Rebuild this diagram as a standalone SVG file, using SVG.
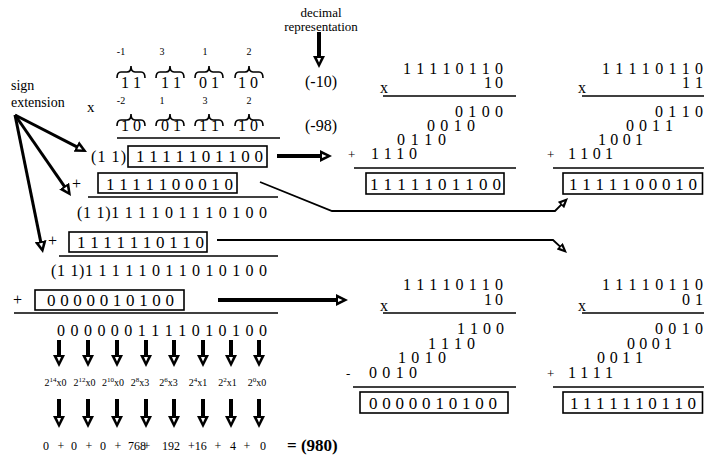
<svg xmlns="http://www.w3.org/2000/svg" width="704" height="459" viewBox="0 0 704 459" font-family="'Liberation Serif', Tinos, 'DejaVu Serif', 'Noto Serif', 'Times New Roman', serif">
<style>
 text{font-family:'Liberation Serif', Tinos, 'DejaVu Serif', 'Noto Serif', 'Times New Roman', serif;fill:#000}
 .d{font-size:16px}
 .b{font-size:17px}
 .s{font-size:10px}
 .sg{font-size:13px}
 .ln{stroke:#000;stroke-width:1.6;fill:none}
 .bx{fill:none;stroke:#000;stroke-width:1.6}
 .br{fill:none;stroke:#000;stroke-width:1.6}
 .thick{stroke:#000;stroke-width:4;fill:none;marker-end:url(#mT)}
 .mid{stroke:#000;stroke-width:3;fill:none;marker-end:url(#mT)}
 .thin{stroke:#000;stroke-width:1.8;fill:none;marker-end:url(#mS)}
</style>
<defs>
 <marker id="mT" markerUnits="userSpaceOnUse" viewBox="0 0 12 12" refX="5" refY="6" markerWidth="12" markerHeight="12" orient="auto">
  <path d="M0,0 L12,6 L0,12 Z" fill="#000"/>
  <path d="M2,4 L6.5,6 L2,8 Z" fill="#fff"/>
 </marker>
 <marker id="mS" markerUnits="userSpaceOnUse" viewBox="0 0 10 9" refX="4" refY="4.5" markerWidth="10" markerHeight="9" orient="auto">
  <path d="M0,0 L10,4.5 L0,9 Z" fill="#000"/>
  <path d="M1.5,3.3 L5,4.5 L1.5,5.7 Z" fill="#fff"/>
 </marker>
 <path id="brace" class="br" d="M-14,12 C-14,8 -13,6 -10,6 L-4,6 C-1,6 0,4 0,0 C0,4 1,6 4,6 L10,6 C13,6 14,8 14,12"/>
</defs>

<g id="sign-extension-label">
 <text x="11" y="90" style="font-size:14px">sign</text>
 <text x="11" y="107" style="font-size:14px">extension</text>
</g>

<g id="decimal-label">
 <text class="sg" x="321" y="17" text-anchor="middle">decimal</text>
 <text class="sg" x="321" y="31" text-anchor="middle">representation</text>
 <text class="d" x="305" y="87">(-10)</text>
 <text class="d" x="305" y="131">(-98)</text>
</g>

<g id="operands">
 <text class="s" x="121" y="55" text-anchor="middle">-1</text>
 <text class="s" x="162" y="55" text-anchor="middle">3</text>
 <text class="s" x="205" y="55" text-anchor="middle">1</text>
 <text class="s" x="249" y="55" text-anchor="middle">2</text>
 <use href="#brace" x="131" y="66"/>
 <use href="#brace" x="170" y="66"/>
 <use href="#brace" x="209" y="66"/>
 <use href="#brace" x="249" y="66"/>
 <text class="d" x="131" y="88" text-anchor="middle">1 1</text>
 <text class="d" x="171" y="88" text-anchor="middle">1 1</text>
 <text class="d" x="209" y="88" text-anchor="middle">0 1</text>
 <text class="d" x="248" y="88" text-anchor="middle">1 0</text>
 <text x="87" y="112" style="font-size:15px">x</text>
 <text class="s" x="121" y="104" text-anchor="middle">-2</text>
 <text class="s" x="162" y="104" text-anchor="middle">1</text>
 <text class="s" x="205" y="104" text-anchor="middle">3</text>
 <text class="s" x="249" y="104" text-anchor="middle">2</text>
 <use href="#brace" x="131" y="114"/>
 <use href="#brace" x="170" y="114"/>
 <use href="#brace" x="209" y="114"/>
 <use href="#brace" x="249" y="114"/>
 <text class="d" x="131" y="131" text-anchor="middle">1 0</text>
 <text class="d" x="171" y="131" text-anchor="middle">0 1</text>
 <text class="d" x="209" y="131" text-anchor="middle">1 1</text>
 <text class="d" x="248" y="131" text-anchor="middle">1 0</text>
 <line class="ln" x1="117" y1="138" x2="280" y2="138"/>
</g>

<g id="partial-sum-left">
 <text class="d" x="91" y="162" textLength="35" lengthAdjust="spacing">(1 1)</text>
 <rect class="bx" x="128" y="146" width="139" height="21"/>
 <text class="b" x="136" y="162" textLength="127" lengthAdjust="spacing">1 1 1 1 1 0 1 1 0 0</text>
 <text class="d" x="72" y="189">+</text>
 <rect class="bx" x="98" y="173" width="139" height="20"/>
 <text class="b" x="106" y="190" textLength="127" lengthAdjust="spacing">1 1 1 1 1 0 0 0 1 0</text>
 <line class="ln" x1="88" y1="197" x2="278" y2="197"/>
 <text class="d" x="77" y="218" textLength="190" lengthAdjust="spacing">(1 1)1 1 1 1 0 1 1 1 0 1 0 0</text>
 <text class="d" x="48" y="246">+</text>
 <rect class="bx" x="69" y="232" width="138" height="20"/>
 <text class="b" x="77" y="248" textLength="127" lengthAdjust="spacing">1 1 1 1 1 1 0 1 1 0</text>
 <line class="ln" x1="59" y1="256" x2="278" y2="256"/>
 <text class="d" x="51" y="276" textLength="216" lengthAdjust="spacing">(1 1)1 1 1 1 1 0 1 1 0 1 0 1 0 0</text>
 <text class="d" x="13" y="305">+</text>
 <rect class="bx" x="35" y="290" width="149" height="20"/>
 <text class="b" x="47" y="306" textLength="127" lengthAdjust="spacing">0 0 0 0 0 1 0 1 0 0</text>
 <line class="ln" x1="14" y1="313" x2="278" y2="313"/>
 <text class="d" x="57" y="336" textLength="210" lengthAdjust="spacing">0 0 0 0 0 0 1 1 1 1 0 1 0 1 0 0</text>
</g>

<g id="weights">
 <text class="s" x="55.5" y="386" text-anchor="middle">2<tspan dy="-4" font-size="7">14</tspan><tspan dy="4">x0</tspan></text>
 <text class="s" x="84.5" y="386" text-anchor="middle">2<tspan dy="-4" font-size="7">12</tspan><tspan dy="4">x0</tspan></text>
 <text class="s" x="113" y="386" text-anchor="middle">2<tspan dy="-4" font-size="7">10</tspan><tspan dy="4">x0</tspan></text>
 <text class="s" x="140" y="386" text-anchor="middle">2<tspan dy="-4" font-size="7">8</tspan><tspan dy="4">x3</tspan></text>
 <text class="s" x="168.5" y="386" text-anchor="middle">2<tspan dy="-4" font-size="7">6</tspan><tspan dy="4">x3</tspan></text>
 <text class="s" x="198" y="386" text-anchor="middle">2<tspan dy="-4" font-size="7">4</tspan><tspan dy="4">x1</tspan></text>
 <text class="s" x="227.5" y="386" text-anchor="middle">2<tspan dy="-4" font-size="7">2</tspan><tspan dy="4">x1</tspan></text>
 <text class="s" x="257" y="386" text-anchor="middle">2<tspan dy="-4" font-size="7">0</tspan><tspan dy="4">x0</tspan></text>
</g>

<g id="sum">
 <text style="font-size:12px" y="450"><tspan x="43">0</tspan><tspan x="57.5">+</tspan><tspan x="71">0</tspan><tspan x="85.5">+</tspan><tspan x="100">0</tspan><tspan x="114.5">+</tspan><tspan x="128">768</tspan><tspan x="143.6">+</tspan><tspan x="162">192</tspan><tspan x="188">+16</tspan><tspan x="214.5">+</tspan><tspan x="230">4</tspan><tspan x="243.5">+</tspan><tspan x="260">0</tspan></text>
 <text x="287" y="451" style="font-size:17px;font-weight:bold">= (980)</text>
</g>

<g id="mult-top-mid">
 <text class="d" x="403" y="74" textLength="100" lengthAdjust="spacing">1 1 1 1 0 1 1 0</text>
 <text class="d" x="484" y="88" textLength="19" lengthAdjust="spacing">1 0</text>
 <text class="d" x="380" y="93">x</text>
 <line class="ln" x1="383" y1="96" x2="516" y2="96"/>
 <text class="d" x="455" y="117" textLength="48" lengthAdjust="spacing">0 1 0 0</text>
 <text class="d" x="427" y="131" textLength="48" lengthAdjust="spacing">0 0 1 0</text>
 <text class="d" x="397" y="145" textLength="49" lengthAdjust="spacing">0 1 1 0</text>
 <text class="sg" x="348" y="159">+</text>
 <text class="d" x="371" y="159" textLength="46" lengthAdjust="spacing">1 1 1 0</text>
 <line class="ln" x1="354" y1="168" x2="516" y2="168"/>
 <rect class="bx" x="366" y="173" width="138" height="21"/>
 <text class="b" x="370" y="190" textLength="131" lengthAdjust="spacing">1 1 1 1 1 0 1 1 0 0</text>
</g>

<g id="mult-top-right">
 <text class="d" x="602" y="74" textLength="101" lengthAdjust="spacing">1 1 1 1 0 1 1 0</text>
 <text class="d" x="682" y="88" textLength="21" lengthAdjust="spacing">1 1</text>
 <text class="d" x="578" y="93">x</text>
 <line class="ln" x1="582" y1="96" x2="704" y2="96"/>
 <text class="d" x="655" y="117" textLength="48" lengthAdjust="spacing">0 1 1 0</text>
 <text class="d" x="626" y="131" textLength="47" lengthAdjust="spacing">0 0 1 1</text>
 <text class="d" x="598" y="145" textLength="45" lengthAdjust="spacing">1 0 0 1</text>
 <text class="sg" x="547" y="159">+</text>
 <text class="d" x="568" y="159" textLength="45" lengthAdjust="spacing">1 1 0 1</text>
 <line class="ln" x1="553" y1="168" x2="704" y2="168"/>
 <rect class="bx" x="563" y="173" width="139.5" height="21"/>
 <text class="b" x="569" y="190" textLength="128" lengthAdjust="spacing">1 1 1 1 1 0 0 0 1 0</text>
</g>

<g id="mult-bottom-mid">
 <text class="d" x="403" y="290" textLength="100" lengthAdjust="spacing">1 1 1 1 0 1 1 0</text>
 <text class="d" x="484" y="305" textLength="19" lengthAdjust="spacing">1 0</text>
 <text class="d" x="380" y="311">x</text>
 <line class="ln" x1="383" y1="313" x2="516" y2="313"/>
 <text class="d" x="457" y="334" textLength="47" lengthAdjust="spacing">1 1 0 0</text>
 <text class="d" x="428" y="349" textLength="47" lengthAdjust="spacing">1 1 1 0</text>
 <text class="d" x="398" y="363" textLength="48" lengthAdjust="spacing">1 0 1 0</text>
 <text class="sg" x="346" y="378">-</text>
 <text class="d" x="369" y="378" textLength="48" lengthAdjust="spacing">0 0 1 0</text>
 <line class="ln" x1="353" y1="387" x2="516" y2="387"/>
 <rect class="bx" x="360" y="392" width="148" height="21"/>
 <text class="b" x="369" y="409" textLength="128" lengthAdjust="spacing">0 0 0 0 0 1 0 1 0 0</text>
</g>

<g id="mult-bottom-right">
 <text class="d" x="602" y="290" textLength="101" lengthAdjust="spacing">1 1 1 1 0 1 1 0</text>
 <text class="d" x="682" y="305" textLength="21" lengthAdjust="spacing">0 1</text>
 <text class="d" x="578" y="311">x</text>
 <line class="ln" x1="582" y1="313" x2="704" y2="313"/>
 <text class="d" x="655" y="334" textLength="48" lengthAdjust="spacing">0 0 1 0</text>
 <text class="d" x="627" y="349" textLength="45" lengthAdjust="spacing">0 0 0 1</text>
 <text class="d" x="597" y="363" textLength="46" lengthAdjust="spacing">0 0 1 1</text>
 <text class="sg" x="547" y="378">+</text>
 <text class="d" x="568" y="378" textLength="45" lengthAdjust="spacing">1 1 1 1</text>
 <line class="ln" x1="553" y1="387" x2="704" y2="387"/>
 <rect class="bx" x="563" y="392" width="139.5" height="21"/>
 <text class="b" x="570" y="409" textLength="126" lengthAdjust="spacing">1 1 1 1 1 1 0 1 1 0</text>
</g>

<g id="connectors">
 <line class="mid" x1="15" y1="115" x2="80.8" y2="148.8"/>
 <line class="mid" x1="15" y1="115" x2="67" y2="190.2"/>
 <line class="mid" x1="15" y1="115" x2="41.6" y2="246.1"/>
 <line class="thick" x1="319" y1="32" x2="319" y2="61"/>
 <line class="thick" x1="277" y1="156" x2="325" y2="156"/>
 <line class="thick" x1="218" y1="300" x2="341" y2="300"/>
 <polyline class="thin" points="260,182 332,211 555,211 563.8,202.2"/>
 <polyline class="thin" points="217,240 553,240 562.6,248.9"/>
 <line class="thick" x1="59" y1="340" x2="59" y2="360"/>
 <line class="thick" x1="88" y1="340" x2="88" y2="360"/>
 <line class="thick" x1="117" y1="340" x2="117" y2="360"/>
 <line class="thick" x1="146" y1="340" x2="146" y2="360"/>
 <line class="thick" x1="174" y1="340" x2="174" y2="360"/>
 <line class="thick" x1="203" y1="340" x2="203" y2="360"/>
 <line class="thick" x1="231" y1="340" x2="231" y2="360"/>
 <line class="thick" x1="259" y1="340" x2="259" y2="360"/>
 <line class="thick" x1="59" y1="399" x2="59" y2="421"/>
 <line class="thick" x1="88" y1="399" x2="88" y2="421"/>
 <line class="thick" x1="117" y1="399" x2="117" y2="421"/>
 <line class="thick" x1="146" y1="399" x2="146" y2="421"/>
 <line class="thick" x1="174" y1="399" x2="174" y2="421"/>
 <line class="thick" x1="203" y1="399" x2="203" y2="421"/>
 <line class="thick" x1="231" y1="399" x2="231" y2="421"/>
 <line class="thick" x1="259" y1="399" x2="259" y2="421"/>
</g>
</svg>
